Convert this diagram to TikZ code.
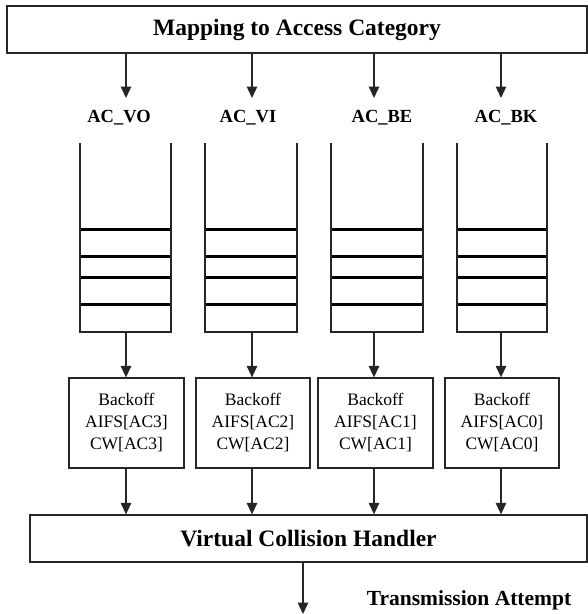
\documentclass[tikz,border=0pt]{standalone}
\usepackage{fontspec}
\setmainfont{Liberation Serif}
\usetikzlibrary{arrows.meta}
\begin{document}
\begin{tikzpicture}[x=1pt,y=-1pt,
  frame/.style={draw=black!85,line width=1.3pt,rectangle,inner sep=0pt},
  flow/.style={draw=black!85,line width=1.3pt,-{Triangle[width=10.5pt,length=11.5pt]}},
  aclabel/.style={font=\bfseries\fontsize{18.5}{20}\selectfont,inner sep=0pt},
  bofftext/.style={font=\fontsize{17.5}{22}\selectfont,align=center,inner sep=0pt},
  bigtext/.style={font=\bfseries\fontsize{23.5}{26}\selectfont,inner sep=0pt},
  qside/.style={draw=black!85,line width=1.2pt},
  qslot/.style={draw=black,line width=3pt}]
\useasboundingbox (0,0) rectangle (588,614);

% access category mapper
\node[frame,minimum width=580pt,minimum height=47pt] (map) at (297,29.5) {};
\node[bigtext] at (map.center) {Mapping to Access Category};

% per-category labels
\node[aclabel] (lvo) at (119,118) {AC\_VO};
\node[aclabel] (lvi) at (248,118) {AC\_VI};
\node[aclabel] (lbe) at (382,118) {AC\_BE};
\node[aclabel] (lbk) at (506,118) {AC\_BK};

% queues
\foreach \name/\l/\r in {qvo/80/171, qvi/205/297, qbe/331/423, qbk/457/547}{
  \coordinate (\name-tl) at (\l,143);
  \coordinate (\name-tr) at (\r,143);
  \coordinate (\name-bl) at (\l,332);
  \coordinate (\name-br) at (\r,332);
  \draw[qside] (\name-tl) -- (\name-bl) -- (\name-br) -- (\name-tr);
  \foreach \y in {229,256,277,304}
    \draw[qslot] (\l+0.6,\y) -- (\r-0.6,\y);
}

% backoff entities
\node[frame,minimum width=115pt,minimum height=90pt] (bvo) at (126.5,423) {};
\node[frame,minimum width=114pt,minimum height=90pt] (bvi) at (253,423) {};
\node[frame,minimum width=115pt,minimum height=90pt] (bbe) at (375.5,423) {};
\node[frame,minimum width=114pt,minimum height=90pt] (bbk) at (502,423) {};
\node[bofftext] at (bvo.center) {Backoff\\AIFS[AC3]\\CW[AC3]};
\node[bofftext] at (bvi.center) {Backoff\\AIFS[AC2]\\CW[AC2]};
\node[bofftext] at (bbe.center) {Backoff\\AIFS[AC1]\\CW[AC1]};
\node[bofftext] at (bbk.center) {Backoff\\AIFS[AC0]\\CW[AC0]};

% collision handler
\node[frame,minimum width=557pt,minimum height=47pt] (vch) at (308.5,538.5) {};
\node[bigtext] at (vch.center) {Virtual Collision Handler};

% output
\coordinate (out) at (303,614);
\node[font=\bfseries\fontsize{21.5}{24}\selectfont,inner sep=0pt] (tx) at (469,600) {Transmission Attempt};

% connectors
\foreach \x/\lab/\q/\b in {126/lvo/qvo/bvo, 252/lvi/qvi/bvi, 374/lbe/qbe/bbe, 501/lbk/qbk/bbk}{
  \draw[flow] (map.south -| \x,0) -- (\x,98);
  \draw[flow] (\q-bl -| \x,0) -- (\b.north -| \x,0);
  \draw[flow] (\b.south -| \x,0) -- (vch.north -| \x,0);
}
\draw[flow] (vch.south -| out) -- (out);
\end{tikzpicture}
\end{document}
